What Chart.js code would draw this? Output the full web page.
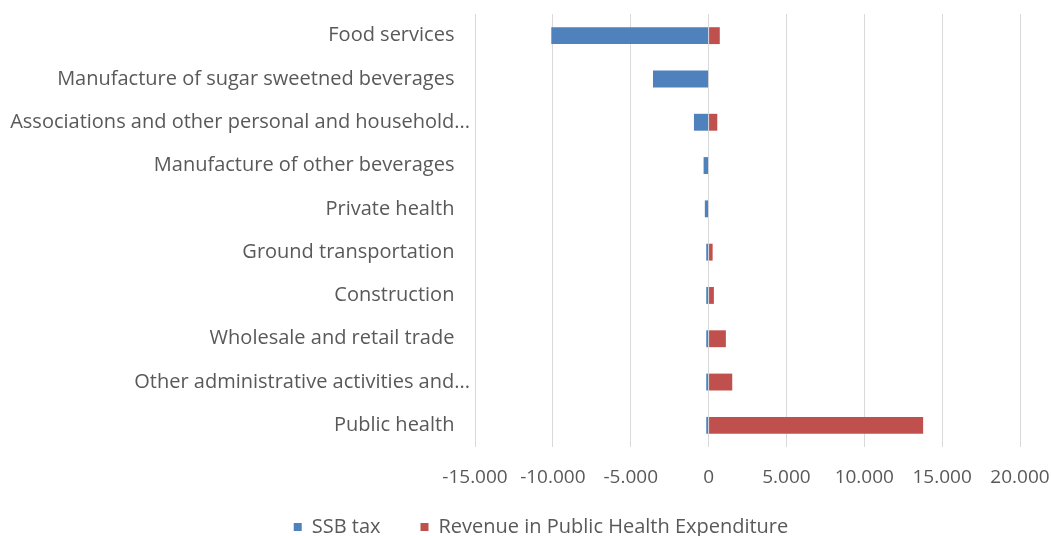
<!DOCTYPE html>
<html>
<head>
<meta charset="utf-8">
<script src="https://cdn.jsdelivr.net/npm/chart.js@4.4.1/dist/chart.umd.min.js"></script>
<style>
  html, body { margin: 0; padding: 0; background: #ffffff; overflow: hidden; }
  #wrap { width: 1051px; height: 536px; overflow: hidden; }
  #chart { display: block; }
</style>
</head>
<body>
<div id="wrap"><canvas id="chart" width="1051" height="563"></canvas></div>
<script>
// Sectors, ordered as listed on the axis
const categories = [
  'Food services',
  'Manufacture of sugar sweetned beverages',
  'Associations and other personal and household...',
  'Manufacture of other beverages',
  'Private health',
  'Ground transportation',
  'Construction',
  'Wholesale and retail trade',
  'Other administrative activities and...',
  'Public health'
];

// Employment effect of the SSB tax
const ssbTax = [-10100, -3570, -940, -320, -240, -150, -150, -150, -150, -150];

// Effect of recycling the revenue into public health expenditure
const revenueHealth = [720, 0, 560, 0, 0, 260, 340, 1110, 1520, 13780];

// Value axis
const xMin = -15000;
const xMax = 20000;
const xStep = 5000;

const seriesNames = ['SSB tax', 'Revenue in Public Health Expenditure'];

const textColor = '#595959';
const fontFamily = '"Open Sans", "Noto Sans", sans-serif';

// Thousands separated with a dot, e.g. -15.000
function formatThousands(v) {
  const sign = v < 0 ? '-' : '';
  const s = String(Math.abs(v));
  return sign + s.replace(/\B(?=(\d{3})+(?!\d))/g, '.');
}

// Shortened names let their ellipsis hang past the common right edge of the labels
function categoryLabel(name) {
  return name.endsWith('...') ? name : name + '   ';
}

// Nudges the legend so it sits centred under the whole figure, just below the axis
const legendPlacement = {
  id: 'legendPlacement',
  afterLayout(chart) {
    const lg = chart.legend;
    if (!lg) return;
    lg.left += 31;
    lg.right += 31;
    lg.top -= 16;
    lg.bottom -= 16;
  }
};

new Chart(document.getElementById('chart'), {
  type: 'bar',
  data: {
    labels: categories,
    datasets: [
      {
        label: seriesNames[0],
        data: ssbTax,
        backgroundColor: '#4F81BD',
        barPercentage: 0.39,
        categoryPercentage: 1
      },
      {
        label: seriesNames[1],
        data: revenueHealth,
        backgroundColor: '#C0504D',
        barPercentage: 0.39,
        categoryPercentage: 1
      }
    ]
  },
  options: {
    indexAxis: 'y',
    responsive: false,
    animation: false,
    layout: { padding: { top: 14, right: 31, left: 0, bottom: 0 } },
    scales: {
      x: {
        stacked: true,
        min: xMin,
        max: xMax,
        ticks: {
          stepSize: xStep,
          color: textColor,
          font: { family: fontFamily, size: 19 },
          padding: 19,
          maxRotation: 0,
          callback: (v) => formatThousands(v)
        },
        grid: { color: '#D9D9D9', lineWidth: 1, drawTicks: false },
        border: { display: false },
        afterFit: (s) => {
          s.height = 46;
          s.paddingLeft = 0;
          s.paddingRight = 0;
        }
      },
      y: {
        stacked: true,
        ticks: {
          color: textColor,
          font: { family: fontFamily, size: 20 },
          padding: 5,
          callback: function (v) { return categoryLabel(this.getLabelForValue(v)); }
        },
        grid: { display: false, drawTicks: false },
        border: { display: false },
        afterFit: (s) => {
          s.width = 475;
          s.paddingTop = 0;
          s.paddingBottom = 0;
        }
      }
    },
    plugins: {
      legend: {
        position: 'bottom',
        labels: {
          color: textColor,
          font: { family: fontFamily, size: 20 },
          boxWidth: 8,
          boxHeight: 8,
          padding: 40
        }
      },
      tooltip: { enabled: false }
    }
  },
  plugins: [legendPlacement]
});
</script>
</body>
</html>
